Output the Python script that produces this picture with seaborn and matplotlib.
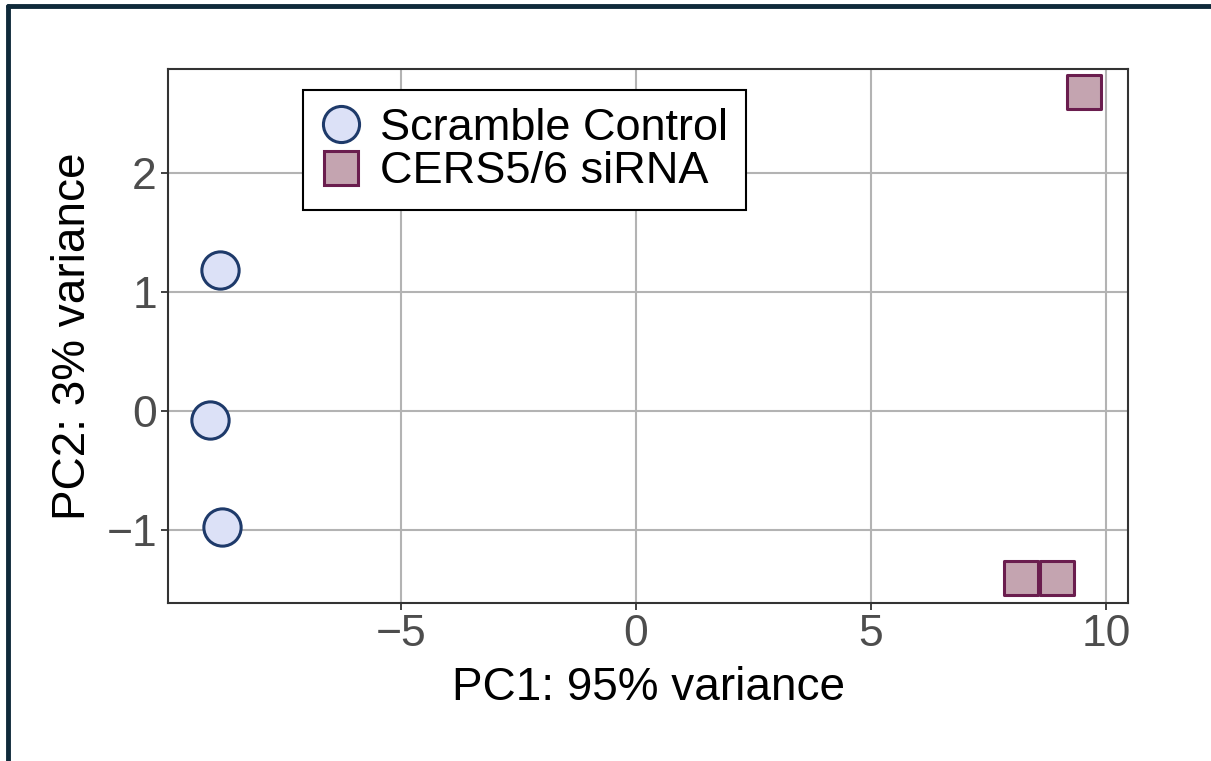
import matplotlib
matplotlib.use("Agg")
import matplotlib.pyplot as plt
import seaborn as sns
import pandas as pd
from matplotlib.lines import Line2D

# Data
groups = ["Scramble Control", "Scramble Control", "Scramble Control",
          "CERS5/6 siRNA", "CERS5/6 siRNA", "CERS5/6 siRNA"]
pc1 = [-8.85, -9.06, -8.81, 9.53, 8.19, 8.96]
pc2 = [1.185, -0.076, -0.975, 2.68, -1.40, -1.40]
group_order = ["Scramble Control", "CERS5/6 siRNA"]
xticks = [-5, 0, 5, 10]
yticks = [-1, 0, 1, 2]

df = pd.DataFrame({"PC1": pc1, "PC2": pc2, "group": groups})

sns.set_theme(style="white")
plt.rcParams['font.family'] = ['Liberation Sans', 'DejaVu Sans']
plt.rcParams['text.color'] = 'black'

fills = {"Scramble Control": "#dce1f7", "CERS5/6 siRNA": "#c4a4b0"}
edges = {"Scramble Control": "#1e3a6a", "CERS5/6 siRNA": "#6a1d4e"}
markers = {"Scramble Control": "o", "CERS5/6 siRNA": "s"}

fig = plt.figure(figsize=(12.11, 7.61), dpi=100)
ax = fig.add_axes([168/1211, 1 - 603/761, (1128-168)/1211, (603-69)/761])

for g in group_order:
    sub = df[df.group == g]
    sns.scatterplot(data=sub, x="PC1", y="PC2", ax=ax, marker=markers[g],
                    color=fills[g], edgecolor=edges[g], linewidth=2.2,
                    s=720 if g == "Scramble Control" else 580, zorder=3, legend=False)

ax.set_xlim(-9.96, 10.47)
ax.set_ylim(-1.613, 2.874)
ax.set_xticks(xticks)
ax.set_yticks(yticks)
ax.set_xticklabels([f"{t}".replace("-", "\u2212") for t in xticks])
ax.set_yticklabels([f"{t}".replace("-", "\u2212") for t in yticks])
ax.grid(True, color="#b3b3b3", linewidth=1.5)
ax.set_axisbelow(True)
for sp in ax.spines.values():
    sp.set_visible(True)
    sp.set_color("#333333")
    sp.set_linewidth(1.5)
ax.tick_params(axis="both", direction="out", length=5, width=1.3, color="#333333",
               labelsize=32, labelcolor="#4d4d4d", pad=3, bottom=True, left=True)
ax.set_xlabel("PC1: 95% variance", fontsize=33, color="black", labelpad=8)
ax.set_ylabel("PC2: 3% variance", fontsize=33, color="black", labelpad=8)

handles = [Line2D([], [], linestyle="none", marker=markers[g], markersize=26 if g == "Scramble Control" else 24,
                  markerfacecolor=fills[g], markeredgecolor=edges[g], markeredgewidth=2.2)
           for g in group_order]
leg = ax.legend(handles, group_order, loc="upper left", bbox_to_anchor=(303/1211, 1 - 90/761),
                bbox_transform=fig.transFigure, fontsize=32.5, frameon=True, fancybox=False,
                edgecolor="black", framealpha=1, handletextpad=0.4, labelspacing=0.05,
                borderpad=0.4, handlelength=0.9, borderaxespad=0, labelcolor="black")
leg.get_frame().set_linewidth(1.5)

# outer frame (left and top)
fig.add_artist(Line2D([8/1211, 8/1211], [0, 1 - 6/761], transform=fig.transFigure,
                      color="#0f2a3a", linewidth=3.5))
fig.add_artist(Line2D([8/1211, 1], [1 - 6/761, 1 - 6/761], transform=fig.transFigure,
                      color="#0f2a3a", linewidth=3.5))

fig.savefig("out.png", dpi=100)
